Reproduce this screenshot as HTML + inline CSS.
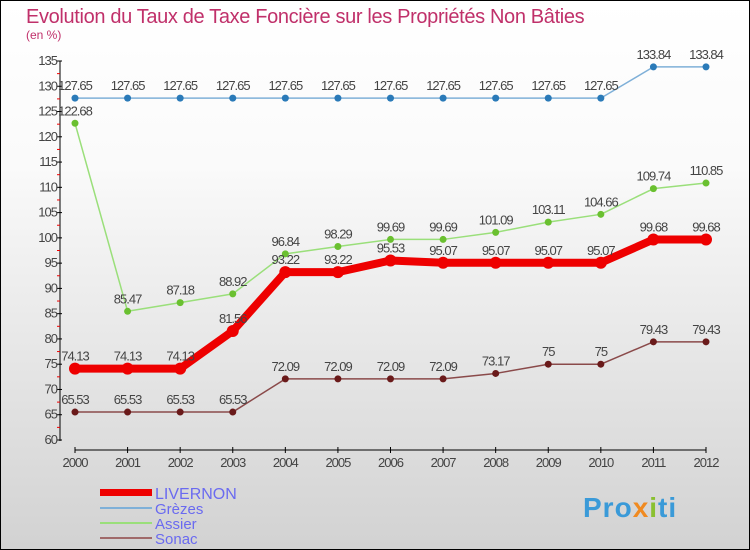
<!DOCTYPE html>
<html><head><meta charset="utf-8"><style>
body{margin:0;}
#c{width:748px;height:548px;border:1px solid #000;background:linear-gradient(#fff,#fafafa 30%,#d2d2d2);position:relative;overflow:hidden;font-family:"Liberation Sans",sans-serif;}
</style></head><body>
<div id="c">
<svg id="s" width="748" height="548" viewBox="1 1 748 548" style="position:absolute;left:0;top:0">
<text x="26" y="23" font-size="20" fill="#c0306a" letter-spacing="-0.35">Evolution du Taux de Taxe Foncière sur les Propriétés Non Bâties</text>
<text x="26" y="39" font-size="12" fill="#c0306a">(en %)</text>
<g id="axes"></g><g id="series"></g>
<g>
<rect x="100" y="489" width="52" height="7" fill="#e00"/>
<text x="155" y="499" font-size="16" fill="#6a6af0">LIVERNON</text>
<line x1="100" y1="508" x2="152" y2="508" stroke="#7fb0d8" stroke-width="2"/>
<text x="155" y="514" font-size="15" fill="#6a6af0">Grèzes</text>
<line x1="100" y1="523" x2="152" y2="523" stroke="#9adf7a" stroke-width="2"/>
<text x="155" y="529" font-size="15" fill="#6a6af0">Assier</text>
<line x1="100" y1="538" x2="152" y2="538" stroke="#a06a6a" stroke-width="2"/>
<text x="155" y="544" font-size="15" fill="#6a6af0">Sonac</text>
</g>
<text x="583" y="517" font-size="28" font-weight="bold" fill="#3a9ad8" letter-spacing="1">Pro<tspan fill="#f08a20">x</tspan><tspan fill="#8ac030">i</tspan>ti</text>
</svg>
</div>
<script>
const years=[2000,2001,2002,2003,2004,2005,2006,2007,2008,2009,2010,2011,2012];
const yTicks=[60,65,70,75,80,85,90,95,100,105,110,115,120,125,130,135];
const livernon=[74.13,74.13,74.13,81.56,93.22,93.22,95.53,95.07,95.07,95.07,95.07,99.68,99.68];
const grezes=[127.65,127.65,127.65,127.65,127.65,127.65,127.65,127.65,127.65,127.65,127.65,133.84,133.84];
const assier=[122.68,85.47,87.18,88.92,96.84,98.29,99.69,99.69,101.09,103.11,104.66,109.74,110.85];
const sonac=[65.53,65.53,65.53,65.53,72.09,72.09,72.09,72.09,73.17,75,75,79.43,79.43];
const NS="http://www.w3.org/2000/svg";
const X=i=>75+i*(706-75)/(years.length-1);
const Y=v=>440-(v-60)*(440-61)/75;
function mk(t,a,p){const e=document.createElementNS(NS,t);for(const k in a)e.setAttribute(k,a[k]);p.appendChild(e);return e;}
const ax=document.getElementById('axes');
mk('line',{x1:60,y1:61,x2:60,y2:441,stroke:'#000'},ax);
mk('line',{x1:75,y1:450,x2:706,y2:450,stroke:'#000'},ax);
yTicks.forEach(v=>{mk('line',{x1:57,y1:Y(v),x2:62,y2:Y(v),stroke:'#000'},ax);
 if(v<135)mk('line',{x1:57,y1:Y(v+2.5),x2:60,y2:Y(v+2.5),stroke:'#e00'},ax);
 const t=mk('text',{x:57,y:Y(v)+4,'font-size':13,'text-anchor':'end',fill:'#444','letter-spacing':'-1'},ax);t.textContent=v;
 
 });
years.forEach((y,i)=>{mk('line',{x1:X(i),y1:447,x2:X(i),y2:453,stroke:'#000'},ax);
 const t=mk('text',{x:X(i),y:467,'font-size':13,'text-anchor':'middle',fill:'#444','letter-spacing':'-1'},ax);t.textContent=y;
 
 });
const sg=document.getElementById('series');
function draw(name,d,col,w,r,dot){
 const g=mk('g',{},sg);
 
 
 mk('polyline',{points:d.map((v,i)=>X(i)+','+Y(v)).join(' '),fill:'none',stroke:col,'stroke-width':w,'stroke-linejoin':'round'},g);
 d.forEach((v,i)=>{const c=mk('circle',{cx:X(i),cy:Y(v),r:r,fill:dot},g);
  
  
  const t=mk('text',{x:X(i),y:Y(v)-8,'font-size':13,'text-anchor':'middle',fill:'#444','letter-spacing':'-1'},g);t.textContent=v;
  
  });
}
draw('grezes',grezes,'#7fb0d8',1.5,3.5,'#2a7ab8');
draw('assier',assier,'#9adf7a',1.5,3.5,'#6ac030');
draw('sonac',sonac,'#8a4a4a',1.5,3.5,'#6a1a1a');
draw('livernon',livernon,'#e00',8,6,'#e00');
</script>
</body></html>
